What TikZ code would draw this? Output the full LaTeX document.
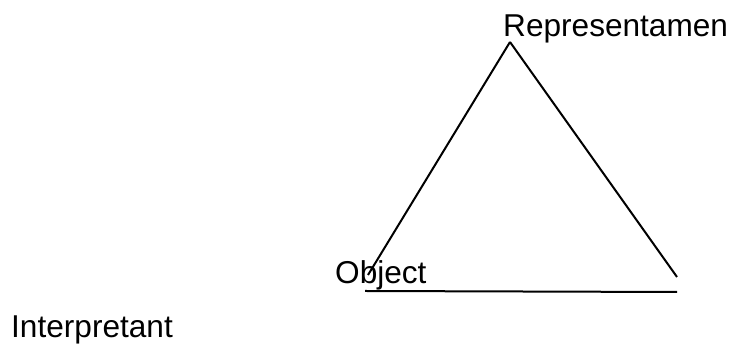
\documentclass[tikz,border=0pt]{standalone}
\usepackage{fontspec}
\setmainfont{Liberation Sans}
\usetikzlibrary{positioning}

\begin{document}
\begin{tikzpicture}[x=1pt, y=1pt, every node/.style={font=\fontsize{31.6}{38}\selectfont, inner sep=0pt, anchor=base west}, edge/.style={line width=2pt}]
    \useasboundingbox (0,0) rectangle (731,344);
    \node (repr) at (503,307) {Representamen};
    \node (obj) at (335,60) {Object};
    \node (interp) at (11,6) {Interpretant};
    \coordinate (top) at (510,302);
    \coordinate (left) at (368,69);
    \coordinate (right) at (677,67);
    \coordinate (baseL) at (365,53);
    \coordinate (baseR) at (677,52);
    \draw[edge] (top) -- (left);
    \draw[edge] (top) -- (right);
    \draw[edge] (baseL) -- (baseR);
\end{tikzpicture}
\end{document}
